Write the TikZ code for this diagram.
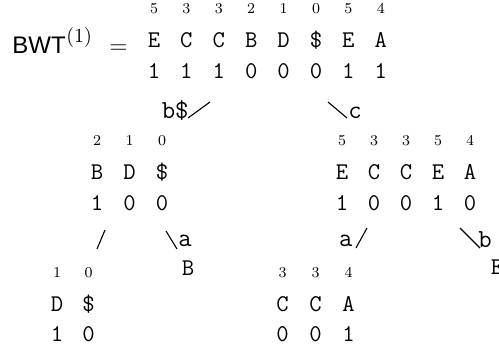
\documentclass[tikz,border=0pt]{standalone}
\usepackage{fontspec}
\newfontfamily\arialf{Liberation Sans}
\begin{document}
\begin{tikzpicture}[x=0.5pt,y=-0.5pt,
  idx/.style={font=\rmfamily\fontsize{7.5}{9}\selectfont, inner sep=0pt, anchor=base},
  sym/.style={font=\ttfamily\fontsize{12}{14}\selectfont, inner sep=0pt, anchor=base},
  lab/.style={font=\ttfamily\fontsize{13}{15}\selectfont, inner sep=0pt},
  slash/.style={line width=0.55pt}]
\useasboundingbox (0,0) rectangle (499,349);
% title
\node[font=\arialf\large, inner sep=0pt, anchor=base west] (bwt) at (12,53) {BWT};
\node[font=\rmfamily\normalsize, inner sep=0pt, anchor=base west] (sup) at (66,42) {(1)};
\node[font=\large, inner sep=0pt, anchor=base west] (eq) at (109,53) {$=$};
% top level
\foreach \x/\n/\c/\b [count=\i] in {154/5/E/1, 186.4/3/C/1, 218.8/3/C/1, 251.2/2/B/0, 283.6/1/D/0, 316/0/\$/0, 348.4/5/E/1, 380.8/4/A/1} {
  \node[idx] (tn\i) at (\x,13) {\n};
  \node[sym] (tc\i) at (\x,47) {\c};
  \node[sym] (tb\i) at (\x,78) {\b};
}
% second level left
\foreach \x/\n/\c/\b [count=\i] in {97/2/B/1, 129.5/1/D/0, 162/0/\$/0} {
  \node[idx] (ln\i) at (\x,145) {\n};
  \node[sym] (lc\i) at (\x,179) {\c};
  \node[sym] (lb\i) at (\x,210) {\b};
}
% second level right
\foreach \x/\n/\c/\b [count=\i] in {342/5/E/1, 374/3/C/0, 406/3/C/0, 438/5/E/1, 470/4/A/0} {
  \node[idx] (rn\i) at (\x,145) {\n};
  \node[sym] (rc\i) at (\x,179) {\c};
  \node[sym] (rb\i) at (\x,210) {\b};
}
% third level left-left
\foreach \x/\n/\c/\b [count=\i] in {57/1/D/1, 88.5/0/\$/0} {
  \node[idx] (lln\i) at (\x,277) {\n};
  \node[sym] (llc\i) at (\x,311) {\c};
  \node[sym] (llb\i) at (\x,341) {\b};
}
% third level right-left
\foreach \x/\n/\c/\b [count=\i] in {282.5/3/C/0, 315.5/3/C/0, 348.5/4/A/1} {
  \node[idx] (rln\i) at (\x,277) {\n};
  \node[sym] (rlc\i) at (\x,311) {\c};
  \node[sym] (rlb\i) at (\x,341) {\b};
}
% leaves
\node[sym] (leafB) at (188,275) {B};
\node[sym] (leafE) at (497,274) {E};
% slashes
\coordinate (s1a) at (188,118); \coordinate (s1b) at (210,102);
\coordinate (s2a) at (328,102); \coordinate (s2b) at (347,118);
\coordinate (s3a) at (97,249);  \coordinate (s3b) at (105,230);
\coordinate (s4a) at (166,231); \coordinate (s4b) at (177,249);
\coordinate (s5a) at (356,248); \coordinate (s5b) at (367,228);
\coordinate (s6a) at (460,228); \coordinate (s6b) at (480,248);
\draw[slash] (s1a) -- (s1b);
\draw[slash] (s2a) -- (s2b);
\draw[slash] (s3a) -- (s3b);
\draw[slash] (s4a) -- (s4b);
\draw[slash] (s5a) -- (s5b);
\draw[slash] (s6a) -- (s6b);
% edge labels
\node[lab, anchor=base east] (lb1) at (189,118) {b\$};
\node[lab, anchor=base west] (lc2) at (348,118) {c};
\node[lab, anchor=base west] (la4) at (178,246) {a};
\node[lab, anchor=base east] (la5) at (353,246) {a};
\node[lab, anchor=base west] (lb6) at (478,247) {b};
\end{tikzpicture}
\end{document}
